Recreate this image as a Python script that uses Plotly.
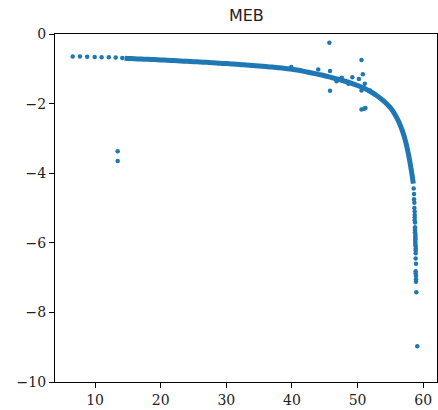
import plotly.graph_objects as go

# Dense main curve
curve_x = [14.5, 15, 16, 17, 18, 19, 20, 21, 22, 23, 24, 25, 26, 27, 28, 29, 30, 31, 32, 33,
           34, 35, 36, 37, 38, 39, 40, 41, 42, 43, 44, 45, 46, 47, 48, 49, 50, 51, 52, 53,
           54, 54.5, 55, 55.5, 56, 56.5, 57, 57.3, 57.6, 57.9, 58.1, 58.3, 58.4, 58.5]
curve_y = [-0.70, -0.705, -0.71, -0.72, -0.725, -0.735, -0.745, -0.755, -0.765, -0.775,
           -0.785, -0.795, -0.805, -0.815, -0.825, -0.84, -0.85, -0.865, -0.875, -0.89,
           -0.905, -0.92, -0.935, -0.95, -0.97, -0.99, -1.01, -1.04, -1.08, -1.12,
           -1.16, -1.20, -1.25, -1.30, -1.35, -1.41, -1.48, -1.56, -1.66, -1.78,
           -1.93, -2.02, -2.12, -2.25, -2.42, -2.62, -2.88, -3.08, -3.32, -3.60,
           -3.82, -4.05, -4.18, -4.30]

# Sparse points at the left
left_x = [6.6, 7.7, 8.8, 9.95, 11.0, 12.1, 13.15, 14.15]
left_y = [-0.645, -0.65, -0.655, -0.66, -0.665, -0.67, -0.675, -0.69]

# Scattered outliers
out_x = [13.45, 13.45, 39.9, 44.0, 45.7, 45.8, 45.8, 46.8, 47.6, 48.6, 49.2, 50.2,
         50.6, 50.8, 50.6, 51.1, 51.9, 50.6, 51.0, 51.2]
out_y = [-3.37, -3.65, -0.95, -1.02, -0.25, -1.06, -1.63, -1.36, -1.26, -1.43, -1.24, -1.29,
         -0.75, -1.16, -1.62, -1.43, -1.62, -2.17, -2.15, -2.13]

# Steep tail points
tail_x = [58.55, 58.6, 58.6, 58.65, 58.65, 58.7, 58.7, 58.7, 58.7, 58.75, 58.75, 58.75,
          58.75, 58.75, 58.8, 58.8, 58.8, 58.8, 58.8, 58.8, 58.8, 58.85, 58.85, 58.85,
          58.85, 58.85, 58.9, 58.85, 58.85, 58.9, 58.9, 58.9, 58.95, 59.1]
tail_y = [-4.44, -4.6, -4.75, -4.85, -5.0, -5.1, -5.2, -5.27, -5.35, -5.42, -5.55, -5.6,
          -5.65, -5.7, -5.75, -5.8, -5.85, -5.9, -5.95, -6.0, -6.05, -6.1, -6.17, -6.22,
          -6.3, -6.45, -6.6, -6.82, -6.88, -6.95, -7.05, -7.12, -7.42, -8.97]

blue = "#1f77b4"

fig = go.Figure()
fig.add_trace(go.Scatter(x=curve_x, y=curve_y, mode="lines",
                         line=dict(color=blue, width=5, shape="spline"),
                         hoverinfo="skip", showlegend=False))
fig.add_trace(go.Scatter(x=left_x + out_x + tail_x, y=left_y + out_y + tail_y,
                         mode="markers", marker=dict(color=blue, size=4.5),
                         showlegend=False))

axis_common = dict(showline=True, linecolor="black", linewidth=1.3, mirror=True,
                   ticks="outside", ticklen=5, tickwidth=1.2, tickcolor="black",
                   showgrid=False, zeroline=False,
                   tickfont=dict(family="DejaVu Serif", size=14, color="#222"))

fig.update_layout(
    width=438, height=410,
    margin=dict(l=55, r=1, t=34, b=28),
    paper_bgcolor="white", plot_bgcolor="white",
    title=dict(text="MEB", x=0.5625, xanchor="center", y=1 - 15 / 410, yanchor="middle",
               yref="container", font=dict(family="DejaVu Sans", size=16, color="#222")),
    xaxis=dict(range=[3.9, 62.1], tickvals=[10, 20, 30, 40, 50, 60], **axis_common),
    yaxis=dict(range=[-10, 0], tickvals=[-10, -8, -6, -4, -2, 0], **axis_common),
)

fig.write_html("out.html", config={"displayModeBar": False},
               post_script="document.body.style.margin='0';document.body.style.overflow='hidden';")
